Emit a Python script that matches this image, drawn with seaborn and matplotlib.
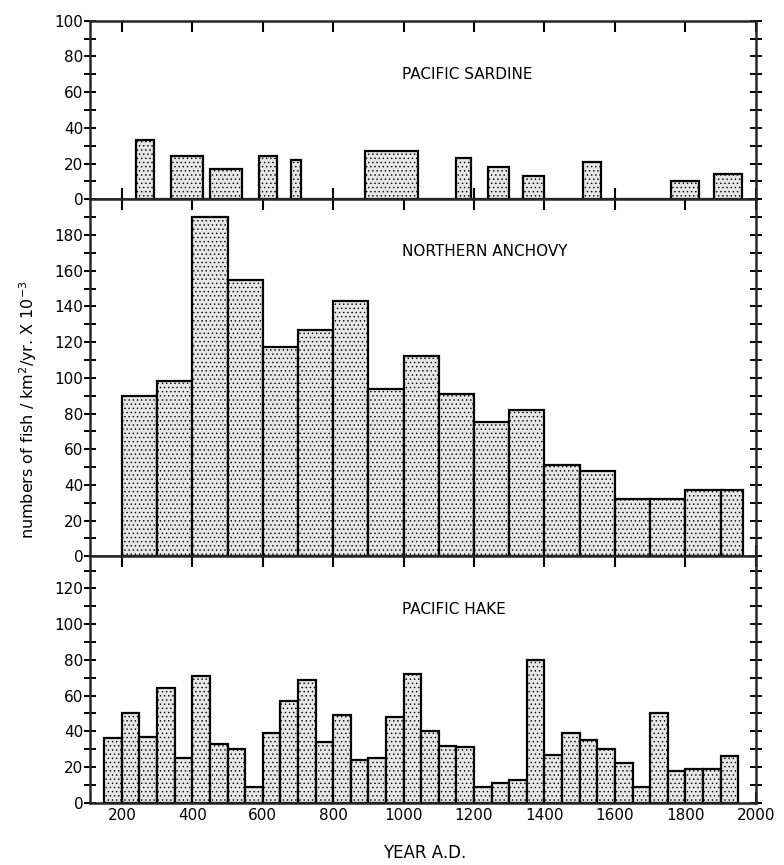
import numpy as np
import seaborn as sns
import matplotlib.pyplot as plt
from matplotlib.ticker import MultipleLocator

# Pacific sardine: bars of varying width (start, end in years A.D.)
sardine_start = [240, 340, 450, 590, 680, 890, 1150, 1240, 1340, 1510, 1760, 1880]
sardine_end = [290, 430, 540, 640, 710, 1040, 1190, 1300, 1400, 1560, 1840, 1960]
sardine_vals = [33, 24, 17, 24, 22, 27, 23, 18, 13, 21, 10, 14]

# Northern anchovy: century bins
anchovy_edges = [200, 300, 400, 500, 600, 700, 800, 900, 1000, 1100, 1200,
                 1300, 1400, 1500, 1600, 1700, 1800, 1900, 1965]
anchovy_vals = [90, 98, 190, 155, 117, 127, 143, 94, 112, 91, 75, 82,
                51, 48, 32, 32, 37, 37]

# Pacific hake: 50-year bins, 150 to 1950
hake_edges = list(range(150, 1951, 50))
hake_vals = [36, 50, 37, 64, 25, 71, 33, 30, 9, 39, 57, 69, 34, 49, 24, 25,
             48, 72, 40, 32, 31, 9, 11, 13, 80, 27, 39, 35, 30, 22, 9, 50,
             18, 19, 19, 26]

year_ticks = list(range(200, 2001, 200))

sns.set_style('ticks')
plt.rcParams['font.family'] = ['DejaVu Sans']
plt.rcParams['text.color'] = 'black'
plt.rcParams['xtick.color'] = 'black'
plt.rcParams['ytick.color'] = 'black'
plt.rcParams['hatch.linewidth'] = 0.5

fig, axes = plt.subplots(3, 1, figsize=(7.84, 8.65), dpi=100, sharex=True,
                         gridspec_kw={'height_ratios': [100, 200, 138], 'hspace': 0})
fig.subplots_adjust(left=0.115, right=0.964, top=0.976, bottom=0.072)

bar_kw = dict(stat='count', color='#e6e6e6', edgecolor='black', linewidth=1.6,
              alpha=1, legend=False, hatch='....')

# sardine: combine bar edges and gaps into one bin list
sardine_edges = sorted(set(sardine_start + sardine_end))
sardine_centers = [(s + e) / 2 for s, e in zip(sardine_start, sardine_end)]
sns.histplot(x=sardine_centers, weights=sardine_vals, bins=sardine_edges, ax=axes[0], **bar_kw)

anchovy_centers = [(anchovy_edges[i] + anchovy_edges[i + 1]) / 2 for i in range(len(anchovy_vals))]
sns.histplot(x=anchovy_centers, weights=anchovy_vals, bins=anchovy_edges, ax=axes[1], **bar_kw)

hake_centers = [(hake_edges[i] + hake_edges[i + 1]) / 2 for i in range(len(hake_vals))]
sns.histplot(x=hake_centers, weights=hake_vals, bins=hake_edges, ax=axes[2], **bar_kw)

limits = [(0, 100), (0, 200), (0, 138)]
labels = [range(0, 101, 20), range(0, 181, 20), range(0, 121, 20)]
names = [('PACIFIC SARDINE', 70), ('NORTHERN ANCHOVY', 171), ('PACIFIC HAKE', 108)]

for ax, lim, lab, (name, ypos) in zip(axes, limits, labels, names):
    ax.set_xlim(110, 2000)
    ax.set_ylim(*lim)
    ax.set_ylabel('')
    ax.set_xlabel('')
    ax.set_xticks(year_ticks)
    ax.set_yticks(list(lab))
    ax.yaxis.set_minor_locator(MultipleLocator(10))
    for sp in ax.spines.values():
        sp.set_visible(True)
        sp.set_linewidth(1.8)
    ax.tick_params(axis='x', which='major', direction='in', top=True, bottom=True,
                   length=8, width=1.5, labelsize=11)
    ax.tick_params(axis='y', which='both', direction='inout', left=True, right=True,
                   length=8, width=1.4, labelsize=11, pad=1)
    ax.text(995, ypos, name, ha='left', va='center', fontsize=11)

axes[0].tick_params(axis='x', labelbottom=False)
axes[1].tick_params(axis='x', labelbottom=False)

fig.text(0.036, 0.527, 'numbers of fish / km$^2$/yr. X 10$^{-3}$', rotation=90,
         ha='center', va='center', fontsize=11.5)
fig.text(0.542, 0.014, 'YEAR A.D.', ha='center', va='center', fontsize=12)

plt.savefig('out.png', dpi=100)
